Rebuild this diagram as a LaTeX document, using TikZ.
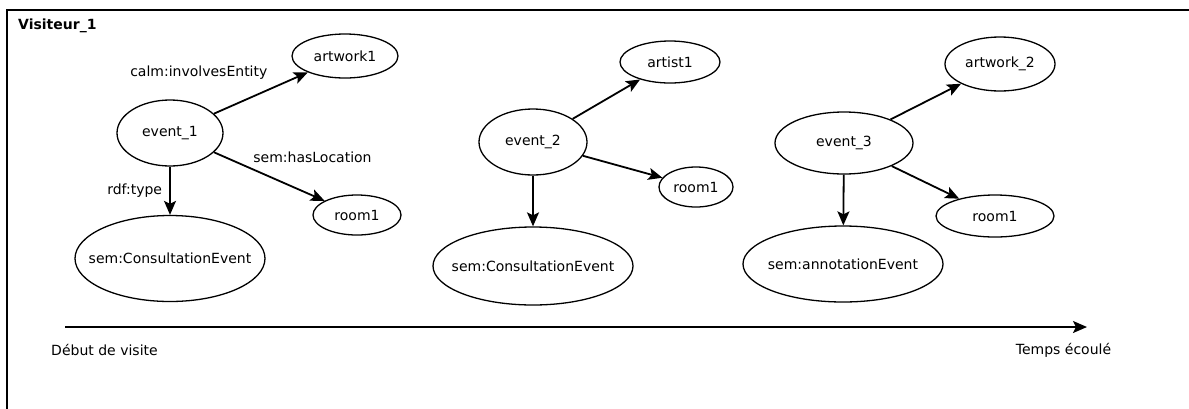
\documentclass[tikz,border=0pt]{standalone}
\usepackage{fontspec}
\setmainfont{DejaVu Sans}
\usetikzlibrary{arrows.meta, positioning, shapes.geometric}
\newcommand{\evfont}{\fontsize{14}{16}\selectfont}

\begin{document}
\begin{tikzpicture}[x=1pt, y=-1pt,
    ent/.style={draw, ellipse, line width=1.3pt, inner xsep=-20pt, inner ysep=0pt, font=\evfont},
    rel/.style={-{Stealth[length=14pt, width=12pt, inset=3pt]}, line width=1.8pt},
    lbl/.style={font=\evfont, inner sep=2pt}]
  \useasboundingbox (0,0) rectangle (1189,408);
  \clip (0,0) rectangle (1189,408);
  \draw[line width=2pt] (7,9.5) rectangle (1200,420);
  \node[anchor=west, inner sep=2pt, font=\bfseries\fontsize{14}{16}\selectfont] (titre) at (16,26) {Visiteur\_1};

  % premier evenement
  \node[ent, minimum width=106pt, minimum height=66pt] (ev1) at (170,133) {event\_1};
  \node[ent, minimum width=106pt, minimum height=44pt] (art1) at (345,56) {artwork1};
  \node[ent, minimum width=88pt, minimum height=40pt] (salle1) at (357,215) {room1};
  \node[ent, minimum width=190pt, minimum height=86pt] (cons1) at (170,258.5) {sem:ConsultationEvent};
  \draw[rel] (ev1) -- node[lbl, pos=0.6, above left=7pt and 0pt] {calm:involvesEntity} (art1);
  \draw[rel] (ev1) -- node[lbl, pos=0.33, above right=3pt and 0pt] {sem:hasLocation} (salle1);
  \draw[rel] (ev1) -- node[lbl, pos=0.5, left=5pt] {rdf:type} (cons1);

  % deuxieme evenement
  \node[ent, minimum width=108pt, minimum height=66pt] (ev2) at (533,142) {event\_2};
  \node[ent, minimum width=100pt, minimum height=42pt] (artiste) at (670,62) {artist1};
  \node[ent, minimum width=74pt, minimum height=40pt] (salle2) at (696,187) {room1};
  \node[ent, minimum width=200pt, minimum height=78pt] (cons2) at (533,266) {sem:ConsultationEvent};
  \draw[rel] (ev2) -- (artiste);
  \draw[rel] (ev2) -- (salle2);
  \draw[rel] (ev2) -- (cons2);

  % troisieme evenement
  \node[ent, minimum width=138pt, minimum height=62pt] (ev3) at (844,143) {event\_3};
  \node[ent, minimum width=110pt, minimum height=54pt] (art2) at (1000,64) {artwork\_2};
  \node[ent, minimum width=118pt, minimum height=42pt] (salle3) at (995,216) {room1};
  \node[ent, minimum width=200pt, minimum height=76pt] (annot) at (843,264) {sem:annotationEvent};
  \draw[rel] (ev3) -- (art2);
  \draw[rel] (ev3) -- (salle3);
  \draw[rel] (ev3) -- (annot);

  % axe du temps
  \coordinate (t0) at (65,327);
  \coordinate (t1) at (1087,327);
  \draw[rel] (t0) -- (t1);
  \node[lbl] (debut) at (104.5,350) {Début de visite};
  \node[lbl] (fin) at (1063.5,350) {Temps écoulé};
\end{tikzpicture}
\end{document}
